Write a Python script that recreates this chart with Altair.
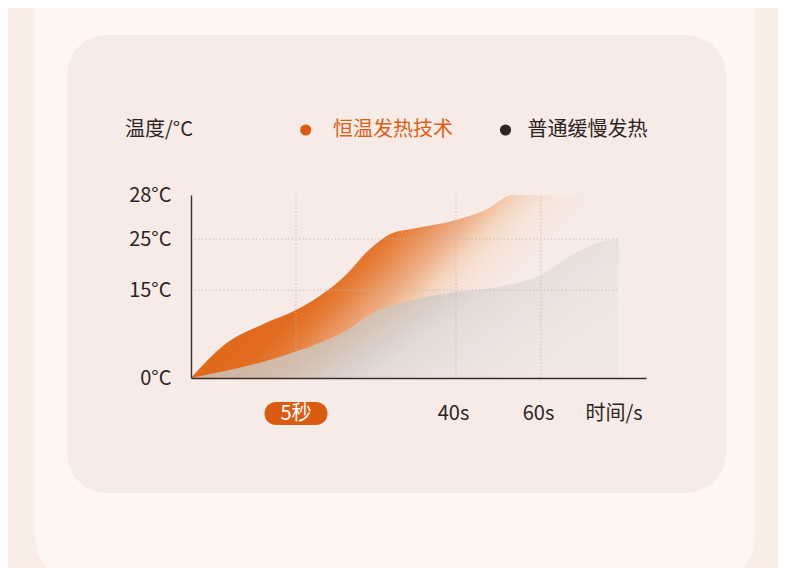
import altair as alt
import pandas as pd

# ---------------- data ----------------
series_names = ["恒温发热技术", "普通缓慢发热"]
series_colors = ["#dc5d12", "#33251e"]

fast_t = [0, 1.5, 3.5, 5, 10, 15.5, 21, 26, 30.5, 40, 47, 53.5, 60, 68, 78.5]
fast_v = [0, 5.4, 9.3, 11.6, 13.9, 17.6, 22.9, 25.4, 25.7, 26.3, 27, 28, 28, 28, 28]

slow_t = [0, 1.5, 3.5, 5, 15.5, 23, 30.5, 40, 50, 60, 68, 74.5, 78.5]
slow_v = [0, 1.1, 2.8, 4.5, 7.9, 11.6, 13.3, 14.7, 15.6, 18, 22.2, 24.5, 25]

y_ticks = [0, 15, 25, 28]
y_grid = [15, 25]
x_grid = [5, 40, 60]
x_label_vals = [40, 60, 78]
x_unit_label = "时间/s"
highlight_t = [5]
highlight_label = "5秒"
y_title = "温度/°C"
x_end = 78.5

FONT = "Noto Sans CJK SC"
DARK = "#2e241f"

X_SCALE = alt.Scale(domain=[0, 5, 40, 60, 85], range=[0, 105, 265, 350, 455], nice=False, zero=False)
Y_SCALE = alt.Scale(domain=[0, 15, 25, 28], range=[183, 95, 44, 0], nice=False, zero=False)

X_AXIS = alt.Axis(values=x_label_vals,
                  labelExpr=f"datum.value == 78 ? '{x_unit_label}' : datum.value + 's'",
                  labelFont=FONT, labelFontSize=20, labelColor=DARK,
                  labelBaseline="middle", labelPadding=35, labelFlush=False, labelOffset=-3,
                  labelOverlap=False, ticks=False, tickSize=0, grid=False,
                  domainColor="#3b2c25", domainWidth=1.4, zindex=1, title=None)
Y_AXIS = alt.Axis(values=y_ticks, labelExpr="datum.value + '°C'",
                  labelFont=FONT, labelFontSize=20, labelColor=DARK,
                  labelPadding=20, labelFlush=False, labelOverlap=False,
                  ticks=False, tickSize=0, grid=False,
                  domainColor="#3b2c25", domainWidth=1.4, zindex=1, title=None)


def X(field):
    return alt.X(field, scale=X_SCALE, axis=X_AXIS, title=None)


def Y(field):
    return alt.Y(field, scale=Y_SCALE, axis=Y_AXIS, title=None)


df_fast = pd.DataFrame({"t": fast_t, "v": fast_v})
df_slow = pd.DataFrame({"t": slow_t, "v": slow_v})
one = pd.DataFrame({"k": [0]})

# ---------------- backgrounds ----------------
outer = alt.Chart(one).mark_rect(color="#fdf6f1", cornerRadius=55).encode(
    x=alt.value(-156), x2=alt.value(564), y=alt.value(-260), y2=alt.value(395)
)
card = alt.Chart(one).mark_rect(color="#f6ebe6", cornerRadius=40).encode(
    x=alt.value(-124), x2=alt.value(535), y=alt.value(-160), y2=alt.value(298)
)

# ---------------- areas ----------------
orange_grad = alt.Gradient(
    gradient="linear",
    x1=0, y1=0, x2=1, y2=0.4,
    stops=[
        alt.GradientStop(color="#dc5e10", offset=0),
        alt.GradientStop(color="#df6719", offset=0.3),
        alt.GradientStop(color="#e16c1f", offset=0.43),
        alt.GradientStop(color="#e57c36", offset=0.49),
        alt.GradientStop(color="#ea935c", offset=0.54),
        alt.GradientStop(color="#eeaa82", offset=0.59),
        alt.GradientStop(color="#f2c2a1", offset=0.63),
        alt.GradientStop(color="#f4d4bd", offset=0.66),
        alt.GradientStop(color="rgba(246,224,210,0.55)", offset=0.73),
        alt.GradientStop(color="rgba(246,232,224,0)", offset=0.84),
    ],
)
gray_grad = alt.Gradient(
    gradient="linear",
    x1=0, y1=0, x2=1, y2=0.45,
    stops=[
        alt.GradientStop(color="#cba692", offset=0),
        alt.GradientStop(color="#d0b6a4", offset=0.45),
        alt.GradientStop(color="#d3bfb0", offset=0.55),
        alt.GradientStop(color="#dad0c9", offset=0.65),
        alt.GradientStop(color="#e2dbd6", offset=0.72),
        alt.GradientStop(color="#e9e2de", offset=0.85),
        alt.GradientStop(color="#efe7e2", offset=1),
    ],
)

fast = alt.Chart(df_fast).mark_area(interpolate="monotone", color=orange_grad).encode(
    x=X("t:Q"), y=Y("v:Q"),
)
slow = alt.Chart(df_slow).mark_area(interpolate="monotone", color=gray_grad).encode(
    x=X("t:Q"), y=Y("v:Q"),
)

# ---------------- grid ----------------
hgrid = alt.Chart(pd.DataFrame({"v": y_grid, "a": 0, "b": x_end})).mark_rule(
    color="#c2b4ac", strokeDash=[1.2, 2.4], strokeWidth=1
).encode(y=Y("v:Q"), x=X("a:Q"), x2="b:Q")
vgrid = alt.Chart(pd.DataFrame({"t": x_grid, "a": 0, "b": 28})).mark_rule(
    color="#c2b4ac", strokeDash=[1.2, 2.4], strokeWidth=1
).encode(x=X("t:Q"), y=Y("a:Q"), y2="b:Q")

# ---------------- highlight pill ----------------
hl_df = pd.DataFrame({"t": highlight_t, "label": [highlight_label]})
pill = alt.Chart(hl_df).mark_rect(color="#d95c12", cornerRadius=11.5, width=63).encode(
    x=X("t:Q"), y=alt.value(207), y2=alt.value(230),
)
pill_text = alt.Chart(hl_df).mark_text(
    font=FONT, fontSize=20, color="white", align="center", baseline="middle"
).encode(x=X("t:Q"), y=alt.value(218.5), text="label:N")

# ---------------- header ----------------
title_txt = alt.Chart(one).mark_text(
    text=y_title, font=FONT, fontSize=20, color=DARK, align="left", baseline="middle"
).encode(x=alt.value(-66), y=alt.value(-65))

dot1 = alt.Chart(one).mark_point(filled=True, shape="circle", size=125, opacity=1,
                                 color=series_colors[0]).encode(x=alt.value(114.7), y=alt.value(-65))
lab1 = alt.Chart(one).mark_text(
    text=series_names[0], font=FONT, fontSize=20, color="#dc5f18",
    align="left", baseline="middle"
).encode(x=alt.value(142), y=alt.value(-65))
dot2 = alt.Chart(one).mark_point(filled=True, shape="circle", size=125, opacity=1,
                                 color=series_colors[1]).encode(x=alt.value(314.5), y=alt.value(-65))
lab2 = alt.Chart(one).mark_text(
    text=series_names[1], font=FONT, fontSize=20, color=DARK,
    align="left", baseline="middle"
).encode(x=alt.value(336.5), y=alt.value(-65))

chart = alt.layer(
    outer, card, fast, slow, hgrid, vgrid, pill, pill_text,
    title_txt, dot1, lab1, dot2, lab2,
).properties(
    width=455, height=183,
    padding={"left": 183, "top": 187, "right": 132, "bottom": 190},
    autosize=alt.AutoSizeParams(type="none"),
    background="#f9ede5",
).configure_view(stroke=None)

chart.save("out.html", embed_options={"renderer": "svg", "actions": False})
